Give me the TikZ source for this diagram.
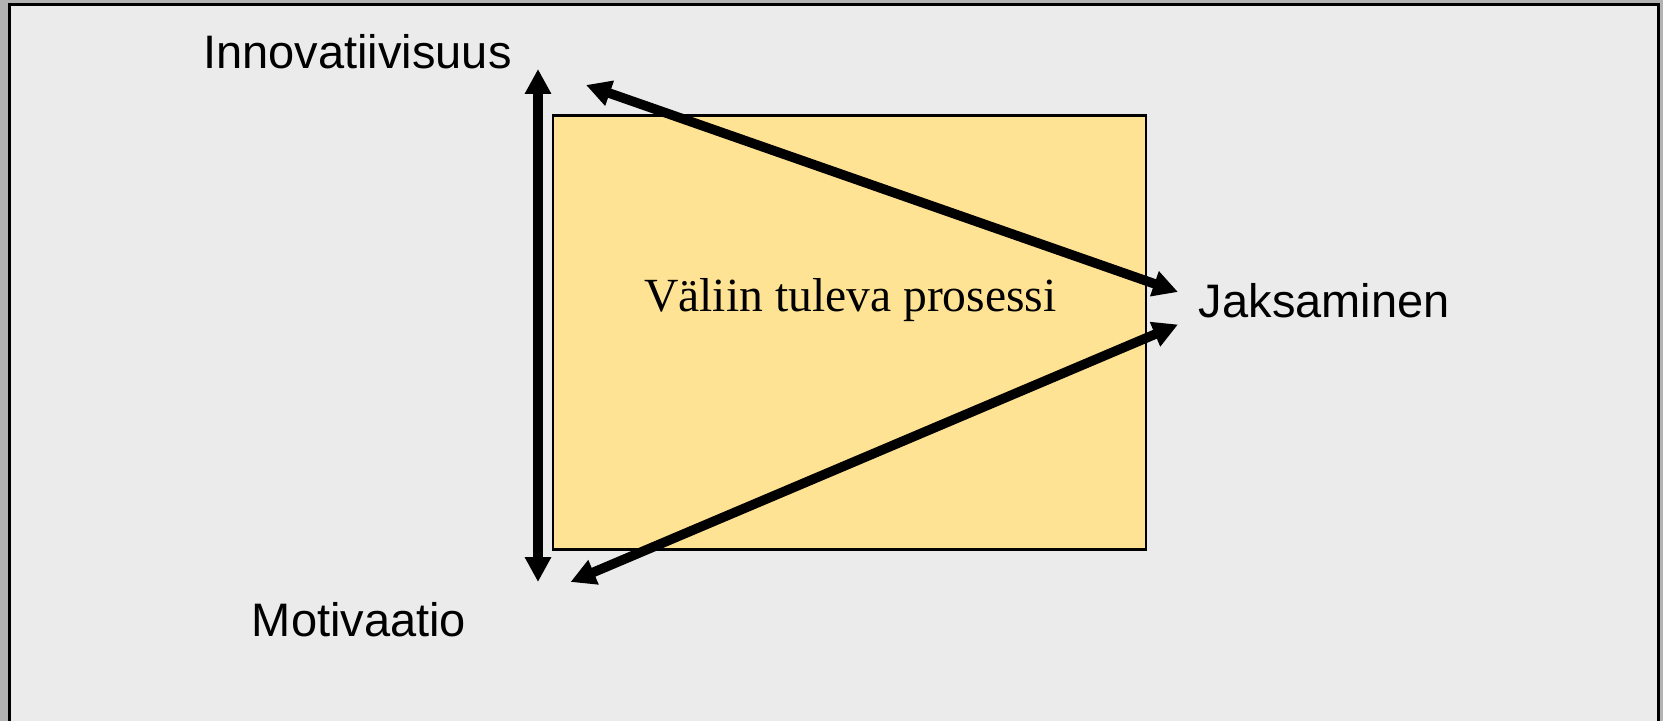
\documentclass[tikz,border=0pt]{standalone}
\usepackage{fontspec}
\setmainfont{Liberation Serif}
\newfontfamily\labelfont{Liberation Sans}
\usetikzlibrary{arrows.meta}
\definecolor{outergray}{RGB}{179,179,179}
\definecolor{panelgray}{RGB}{235,235,235}
\definecolor{boxyellow}{RGB}{255,227,148}
\tikzset{
  lbl/.style={inner sep=0pt, anchor=base west, font=\labelfont\fontsize{23.5}{28}\selectfont},
  procbox/.style={draw=black, line width=1.3pt, fill=boxyellow, inner sep=0pt},
  link/.style={line width=4.8pt, {Triangle[width=12.5pt,length=12.5pt]}-{Triangle[width=12.5pt,length=12.5pt]}}
}
\begin{document}
\begin{tikzpicture}[x=0.5pt,y=-0.5pt]
\useasboundingbox (0,0) rectangle (1663,721);
\clip (0,0) rectangle (1663,721);
\fill[outergray] (0,0) rectangle (1663,721);
\draw[black, line width=1.5pt, fill=panelgray] (9.5,4.5) rectangle (1658.3,760);
% process box
\node[procbox, minimum width=296.5pt, minimum height=216.9pt] (box) at (849.5,332.5) {};
\node[inner sep=0pt, anchor=base west, font=\fontsize{23.8}{28}\selectfont] (proc) at (643.8,312) {Väliin tuleva prosessi};
% labels
\node[lbl] (innov) at (203,69) {Innovatiivisuus};
\node[lbl] (jaks) at (1198.5,317.5) {Jaksaminen};
\node[lbl] (motiv) at (251.5,636) {Motivaatio};
% arrow end points
\coordinate (vTop) at (538,69);
\coordinate (vBot) at (538,582);
\coordinate (dTop) at (586,85);
\coordinate (jTop) at (1178,292);
\coordinate (jBot) at (1178,324.5);
\coordinate (dBot) at (570.5,582);
% connectors
\draw[link] (vBot) -- (vTop);
\draw[link] (dTop) -- (jTop);
\draw[link] (dBot) -- (jBot);
\end{tikzpicture}
\end{document}
